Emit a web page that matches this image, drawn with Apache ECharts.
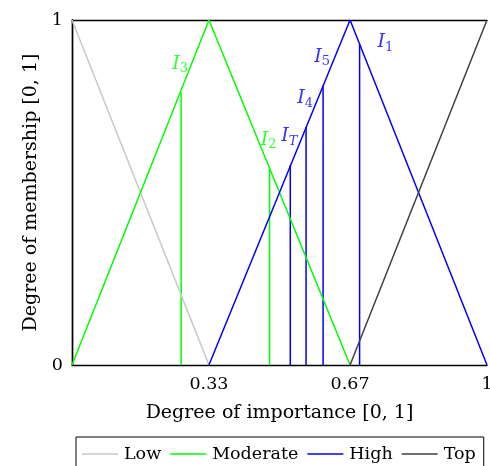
<!DOCTYPE html>
<html>
<head>
<meta charset="utf-8">
<script src="https://cdn.jsdelivr.net/npm/echarts@6/dist/echarts.min.js"></script>
<style>
  html, body { margin: 0; padding: 0; background: #fff; }
  #Chart1 { width: 490px; height: 466px; }
</style>
</head>
<body>
<div id="Chart1"></div>
<script>
// membership functions (x, membership)
const lowData = [[0, 1], [0.33, 0]];
const moderateData = [[0, 0], [0.33, 1], [0.67, 0]];
const highData = [[0.33, 0], [0.67, 1], [1, 0]];
const topData = [[0.67, 0], [1, 1]];

// importance values dropped onto the curves
const dropNames = ["3", "2", "T", "4", "5", "1"];
const dropX = [0.263, 0.476, 0.526, 0.564, 0.605, 0.693];
const dropY = [0.79, 0.57, 0.58, 0.69, 0.81, 0.93];
const dropSet = ["Moderate", "Moderate", "High", "High", "High", "High"];

const xTicks = [0.33, 0.67, 1];

const colors = { Low: "#c8c8c8", Moderate: "#00ff00", High: "#0000ff", Top: "#404040" };
const FONT = "DejaVu Serif";

const myChart = echarts.init(document.getElementById("Chart1"));

const curve = (name, data) => ({
  name: name,
  type: "line",
  data: data,
  symbol: "none",
  lineStyle: { color: colors[name], width: 1.5 },
  itemStyle: { color: colors[name] },
  z: 3
});

const series = [
  curve("Low", lowData),
  curve("Moderate", moderateData),
  curve("High", highData),
  curve("Top", topData)
];

dropX.forEach((x, i) => {
  const c = colors[dropSet[i]];
  series.push({
    name: "I" + dropNames[i],
    type: "line",
    data: [[x, 0], [x, dropY[i]]],
    symbol: "none",
    lineStyle: { color: c, width: 1.5 },
    z: 2
  });
  const isLast = dropNames[i] === "1";
  series.push({
    name: "label" + i,
    type: "scatter",
    data: [[x, dropY[i]]],
    symbolSize: 0,
    silent: true,
    label: {
      show: true,
      position: isLast ? "right" : "top",
      offset: isLast ? [13, -2] : [-1, -12],
      formatter: "{i|I}{s|" + dropNames[i] + "}",
      rich: {
        i: { fontFamily: FONT, fontStyle: "italic", fontSize: 19, color: c },
        s: { fontFamily: FONT, fontStyle: dropNames[i] === "T" ? "italic" : "normal",
             fontSize: 13, color: c, padding: [10, 0, 0, 0] }
      }
    }
  });
});

const option = {
  animation: false,
  grid: { left: 72, right: 3, top: 20, bottom: 101, outerBoundsMode: "none" },
  legend: {
    data: ["Low", "Moderate", "High", "Top"],
    left: 76,
    top: 437,
    padding: [8, 8, 12, 6],
    icon: "rect",
    itemWidth: 36,
    itemHeight: 1.5,
    itemGap: 9,
    borderColor: "#000",
    borderWidth: 1,
    borderRadius: 0,
    textStyle: { fontFamily: FONT, fontSize: 17.5, color: "#000", padding: [0, 0, 0, 1] }
  },
  xAxis: {
    type: "value",
    min: 0,
    max: 1,
    name: "Degree of importance [0, 1]",
    nameLocation: "middle",
    nameGap: 39,
    nameTextStyle: { fontFamily: FONT, fontSize: 19, color: "#000" },
    axisLine: { lineStyle: { color: "#000", width: 1.4 } },
    axisTick: { show: false },
    splitLine: { show: false },
    axisLabel: {
      customValues: xTicks,
      formatter: v => (v === 1 ? "1" : v.toFixed(2)),
      fontFamily: FONT, fontSize: 17.5, color: "#000", margin: 10
    }
  },
  yAxis: {
    type: "value",
    min: 0,
    max: 1,
    interval: 1,
    name: "Degree of membership [0, 1]",
    nameLocation: "middle",
    nameGap: 30,
    nameTextStyle: { fontFamily: FONT, fontSize: 19, color: "#000" },
    axisLine: { show: true, lineStyle: { color: "#000", width: 1.4 } },
    axisTick: { show: false },
    splitLine: { show: false },
    axisLabel: { fontFamily: FONT, fontSize: 17.5, color: "#000", margin: 9 }
  },
  series: series
};

// frame on top and right
option.xAxis = [option.xAxis, {
  type: "value", min: 0, max: 1, position: "top",
  axisLine: { show: true, onZero: false, lineStyle: { color: "#000", width: 1.4 } },
  axisTick: { show: false }, axisLabel: { show: false }, splitLine: { show: false }
}];
option.yAxis = [option.yAxis, {
  type: "value", min: 0, max: 1, position: "right",
  axisLine: { show: true, lineStyle: { color: "#000", width: 1.4 } },
  axisTick: { show: false }, axisLabel: { show: false }, splitLine: { show: false }
}];

myChart.setOption(option);
</script>
</body>
</html>
